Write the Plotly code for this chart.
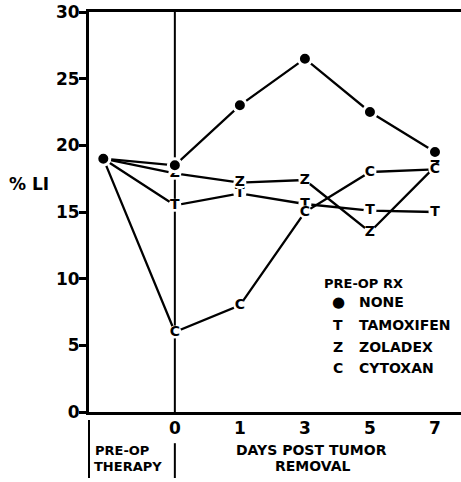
import plotly.graph_objects as go

# ---- data ----
days = ["0", "1", "3", "5", "7"]
preop_value = 19.0
none_vals = [18.5, 23.0, 26.5, 22.5, 19.5]
tamoxifen_vals = [15.5, 16.4, 15.6, 15.1, 15.0]
zoladex_vals = [17.9, 17.2, 17.4, 13.5, 18.4]
cytoxan_vals = [6.0, 8.0, 15.0, 18.0, 18.2]
series_names = ["NONE", "TAMOXIFEN", "ZOLADEX", "CYTOXAN"]
series_letters = ["●", "T", "Z", "C"]
y_ticks = [0, 5, 10, 15, 20, 25, 30]

# ---- layout constants ----
PREOP_X = -1.1
FONT = "DejaVu Sans"
W, H = 461, 482
L, R, T, B = 89, 0, 12, 70

idx = list(range(len(days)))
xs_full = [PREOP_X] + idx

fig = go.Figure()

all_vals = [none_vals, tamoxifen_vals, zoladex_vals, cytoxan_vals]
# lines first
for vals in all_vals:
    fig.add_trace(go.Scatter(
        x=xs_full, y=[preop_value] + vals, mode="lines",
        line=dict(color="black", width=2.3), hoverinfo="skip", showlegend=False))

# letter markers (white backing creates gaps in lines)
for vals, letter in [(tamoxifen_vals, "T"), (zoladex_vals, "Z"), (cytoxan_vals, "C")]:
    fig.add_trace(go.Scatter(
        x=idx, y=vals, mode="markers+text", text=[letter] * len(idx),
        textposition="middle center",
        textfont=dict(family=FONT, size=14, color="black", weight="bold"),
        marker=dict(color="white", size=13, line=dict(width=0)),
        hoverinfo="skip", showlegend=False))

# filled dots
fig.add_trace(go.Scatter(
    x=xs_full, y=[preop_value] + none_vals, mode="markers",
    marker=dict(color="black", size=13, line=dict(color="white", width=3)),
    hoverinfo="skip", showlegend=False))

# day-0 vertical line through plot
fig.add_shape(type="line", xref="x", yref="y", x0=0, x1=0, y0=0, y1=30,
              line=dict(color="black", width=2), layer="below")
# separators below axis
fig.add_shape(type="line", xref="paper", yref="paper", x0=0, x1=0, y0=-0.02, y1=-0.165,
              line=dict(color="black", width=2))
fig.add_shape(type="line", xref="x", yref="paper", x0=0, x1=0, y0=-0.078, y1=-0.165,
              line=dict(color="black", width=2))

plot_w = W - L - R
plot_h = H - T - B


def px(xp):
    return (xp - L) / plot_w


def py(yp):
    return (H - B - yp) / plot_h


def ann(text, xp, yp, size=13, xanchor="center"):
    fig.add_annotation(text=text, xref="paper", yref="paper", x=px(xp), y=py(yp),
                       xanchor=xanchor, yanchor="middle", showarrow=False,
                       font=dict(family=FONT, size=size, color="black", weight="bold"))


# bottom labels
ann("PRE-OP", 122, 450, 13)
ann("THERAPY", 128, 466, 13)
ann("DAYS POST TUMOR", 311, 450, 14)
ann("REMOVAL", 313, 466, 14)
# y title
ann("% LI", 29, 184, 17)
# legend
ann("PRE-OP RX", 322, 283, 13, "left")
legend_y = [302, 325, 347, 368]
for name, letter, yp in zip(series_names, series_letters, legend_y):
    ann(letter, 338, yp, 15 if letter == "●" else 14)
    ann(name, 357, yp, 14, "left")

axis_font = dict(family=FONT, size=17, color="black", weight="bold")
fig.update_layout(
    width=W, height=H, margin=dict(l=L, r=R, t=T, b=B),
    paper_bgcolor="white", plot_bgcolor="white",
    xaxis=dict(range=[-1.32, 4.40], tickvals=idx, ticktext=days, showgrid=False,
               zeroline=False, showline=True, mirror=True, linecolor="black", linewidth=3,
               ticks="", tickfont=axis_font, ticklabelstandoff=-1),
    yaxis=dict(range=[0, 30], tickvals=y_ticks, showgrid=False, zeroline=False,
               showline=True, linecolor="black", linewidth=3, ticks="outside",
               ticklen=7, tickwidth=2.5, tickcolor="black", tickfont=axis_font,
               ticklabelstandoff=-4),
)

fig.write_html("out.html", config={"displayModeBar": False},
               post_script="document.body.style.margin='0';")
